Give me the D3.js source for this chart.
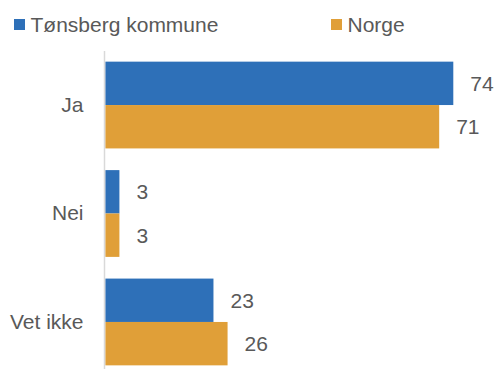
<!DOCTYPE html>
<html>
<head>
<meta charset="utf-8">
<script src="https://cdn.jsdelivr.net/npm/d3@7"></script>
<style>
  html, body { margin: 0; padding: 0; background: #fff; }
  svg { display: block; font-family: "Liberation Sans", Arial, sans-serif; }
</style>
</head>
<body>
<svg id="chart" width="496" height="369"></svg>
<script>
// Survey answers, share of respondents (%)
const categories = ["Ja", "Nei", "Vet ikke"];
const seriesNames = ["Tønsberg kommune", "Norge"];
const tonsberg = [74, 3, 23];
const norge = [71, 3, 26];
const seriesColors = ["#2E70B8", "#E09F38"];

const series = [tonsberg, norge];
const rows = categories.map((c, i) => ({
  category: c,
  values: series.map((s, k) => ({ key: seriesNames[k], value: s[i], k }))
}));

const svg = d3.select("#chart");
const W = 496, H = 369;
const axisX = 104.5;
const x0 = 105.3;
const textColor = "#595959";
const fontSize = 21;

const y = d3.scaleBand()
  .domain(categories)
  .range([50.8, 376.2])
  .paddingInner(0.2)
  .paddingOuter(0.1);

const ySub = d3.scaleBand()
  .domain(seriesNames)
  .range([0, y.bandwidth()]);

const x = d3.scaleLinear()
  .domain([0, 74])
  .range([x0, 453.3]);

// Bars
const groups = svg.append("g")
  .selectAll("g")
  .data(rows)
  .join("g")
  .attr("transform", d => `translate(0,${y(d.category)})`);

groups.selectAll("rect")
  .data(d => d.values)
  .join("rect")
  .attr("x", x(0))
  .attr("y", d => ySub(d.key))
  .attr("width", d => x(d.value) - x(0))
  .attr("height", ySub.bandwidth())
  .attr("fill", d => seriesColors[d.k]);

// Value labels
groups.selectAll("text")
  .data(d => d.values)
  .join("text")
  .attr("x", d => x(d.value) + 17)
  .attr("y", d => ySub(d.key) + ySub.bandwidth() / 2)
  .attr("dy", "0.35em")
  .attr("font-size", fontSize)
  .attr("fill", textColor)
  .text(d => d.value);

// Category axis
const yAxis = d3.axisLeft(y).tickSize(0).tickPadding(21);
const axisG = svg.append("g")
  .attr("transform", `translate(${axisX},0)`)
  .call(yAxis);
axisG.select(".domain").remove();
axisG.selectAll("text")
  .attr("font-size", fontSize)
  .attr("font-family", "Liberation Sans, Arial, sans-serif")
  .attr("fill", textColor);

svg.append("line")
  .attr("x1", axisX).attr("x2", axisX)
  .attr("y1", 51).attr("y2", H)
  .attr("stroke", "#d9d9d9")
  .attr("stroke-width", 1.5);

// Legend
const legendX = [14, 331];
const legend = svg.append("g")
  .selectAll("g")
  .data(seriesNames)
  .join("g")
  .attr("transform", (d, i) => `translate(${legendX[i]},19)`);
legend.append("rect")
  .attr("width", 11).attr("height", 11)
  .attr("fill", (d, i) => seriesColors[i]);
legend.append("text")
  .attr("x", 16.5)
  .attr("y", 12.5)
  .attr("font-size", fontSize)
  .attr("fill", textColor)
  .text(d => d);
</script>
</body>
</html>
